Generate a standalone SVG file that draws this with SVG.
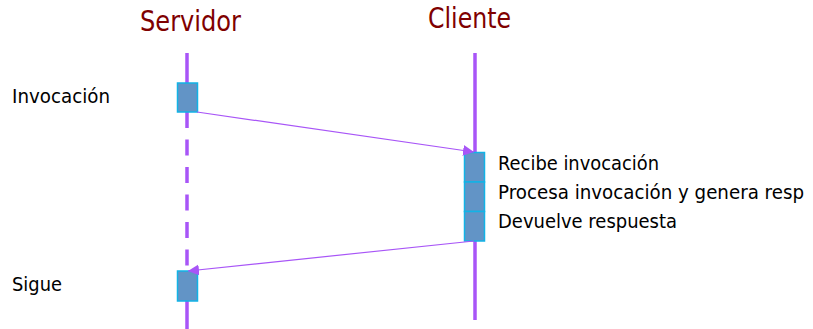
<svg xmlns="http://www.w3.org/2000/svg" width="813" height="329" viewBox="0 0 813 329">
<defs>
<style>
.title{font-family:"DejaVu Sans",Verdana,sans-serif;font-size:28px;fill:#7F0000}
.lbl{font-family:"DejaVu Sans",Verdana,sans-serif;font-size:20px;fill:#000}
.life{stroke:#A855F7;stroke-width:3.5;fill:none}
.act{fill:#6294C6;stroke:#12B3E6;stroke-width:1.5}
.msg{stroke:#A855F7;stroke-width:1.2;fill:none}
</style>
<marker id="arr" viewBox="0 0 10 10" refX="10" refY="5" markerWidth="11" markerHeight="11" markerUnits="userSpaceOnUse" orient="auto">
<path d="M0,0 L10,5 L0,10 z" fill="#A855F7"/>
</marker>
</defs>
<rect width="813" height="329" fill="#fff"/>
<g id="servidor">
<text class="title" x="140" y="31" textLength="101" lengthAdjust="spacingAndGlyphs">Servidor</text>
<line class="life" x1="187" y1="53" x2="187" y2="83"/>
<line class="life" x1="187" y1="112" x2="187" y2="271" stroke-dasharray="16 11.5"/>
<line class="life" x1="187" y1="300" x2="187" y2="329"/>
<rect class="act" x="177.5" y="83" width="20" height="29"/>
<rect class="act" x="177.5" y="271" width="20" height="30"/>
</g>
<g id="cliente">
<text class="title" x="428" y="28" textLength="83" lengthAdjust="spacingAndGlyphs">Cliente</text>
<line class="life" x1="475" y1="53" x2="475" y2="320"/>
<rect class="act" x="464.5" y="152.5" width="20" height="29.5"/>
<rect class="act" x="464.5" y="182" width="20" height="29.5"/>
<rect class="act" x="464.5" y="211.5" width="20" height="29.5"/>
</g>
<g id="labels">
<text class="lbl" x="12" y="103" textLength="98" lengthAdjust="spacingAndGlyphs">Invocación</text>
<text class="lbl" x="12" y="291" textLength="50" lengthAdjust="spacingAndGlyphs">Sigue</text>
<text class="lbl" x="498" y="170" textLength="161" lengthAdjust="spacingAndGlyphs">Recibe invocación</text>
<text class="lbl" x="498" y="199" textLength="306" lengthAdjust="spacingAndGlyphs">Procesa invocación y genera resp</text>
<text class="lbl" x="498" y="228" textLength="179" lengthAdjust="spacingAndGlyphs">Devuelve respuesta</text>
</g>
<g id="connectors">
<line class="msg" x1="197" y1="112" x2="474" y2="152" marker-end="url(#arr)"/>
<line class="msg" x1="474" y1="241" x2="188" y2="271" marker-end="url(#arr)"/>
</g>
</svg>
